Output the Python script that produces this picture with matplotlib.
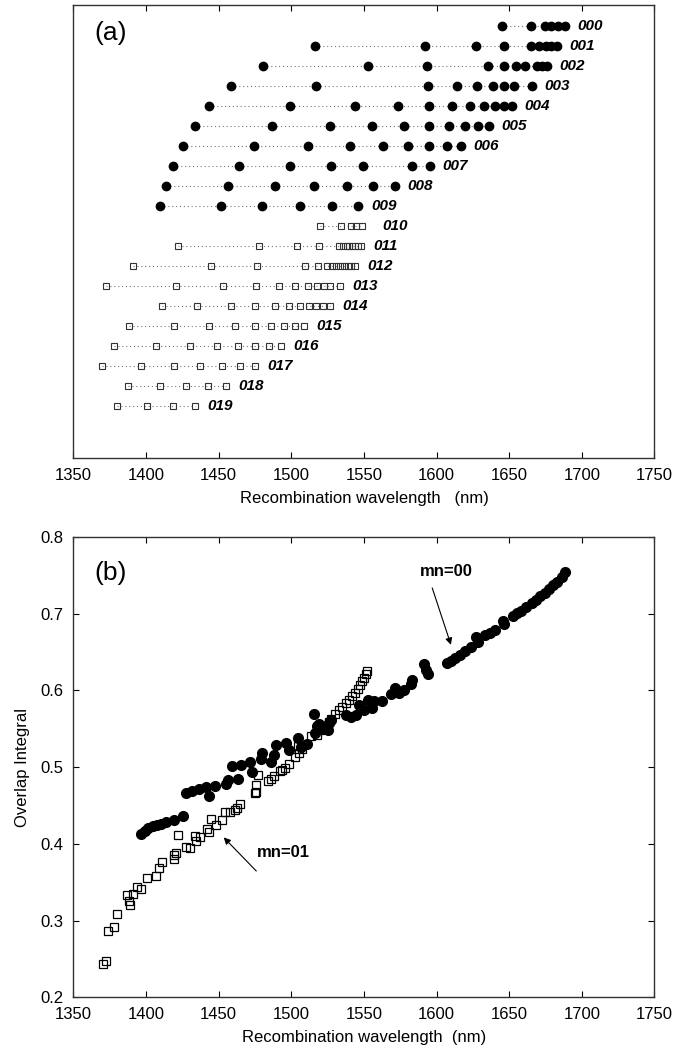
import matplotlib
matplotlib.use("Agg")
import matplotlib.pyplot as plt

plt.rcParams["font.family"] = ["Liberation Sans", "DejaVu Sans"]

# ---- panel (a): recombination wavelengths per mode (nm) ----
circle_labels = ["000", "001", "002", "003", "004", "005", "006", "007", "008", "009"]
circle_rows = [
    [1645.0, 1665.2, 1674.6, 1678.9, 1683.7, 1688.3],
    [1516.4, 1591.9, 1627.0, 1646.1, 1664.9, 1670.3, 1675.0, 1679.0, 1683.0],
    [1480.2, 1552.7, 1593.5, 1635.4, 1646.6, 1654.7, 1660.9, 1668.9, 1672.4, 1676.2],
    [1458.2, 1517.2, 1594.3, 1613.9, 1627.9, 1638.6, 1646.6, 1653.1, 1665.7],
    [1443.4, 1499.3, 1544.1, 1573.4, 1594.6, 1610.7, 1623.0, 1632.7, 1640.2, 1646.6, 1652.0],
    [1433.8, 1486.9, 1526.4, 1555.4, 1577.7, 1595.1, 1608.5, 1619.3, 1628.4, 1635.9],
    [1425.2, 1474.0, 1511.3, 1540.1, 1562.9, 1580.6, 1595.1, 1606.9, 1616.6],
    [1418.5, 1463.8, 1499.3, 1527.2, 1549.5, 1583.0, 1595.4],
    [1413.6, 1456.6, 1488.8, 1515.9, 1538.2, 1556.4, 1571.5],
    [1409.6, 1451.7, 1479.9, 1506.0, 1527.7, 1546.2],
]
square_labels = ["010", "011", "012", "013", "014", "015", "016", "017", "018", "019"]
square_rows = [
    [1519.7, 1534.4, 1541.1, 1544.6, 1548.4],
    [1421.7, 1477.5, 1503.8, 1519.1, 1533.0, 1535.5, 1538.0, 1540.0, 1542.0, 1544.0, 1546.0, 1548.0],
    [1390.8, 1444.5, 1476.2, 1509.5, 1518.3, 1524.5, 1528.0, 1530.7, 1533.4, 1536.0, 1538.7, 1541.4, 1543.6],
    [1372.6, 1420.6, 1453.1, 1475.6, 1491.7, 1502.8, 1511.3, 1517.8, 1522.3, 1526.9, 1533.4],
    [1410.7, 1434.8, 1458.5, 1475.1, 1488.5, 1498.5, 1506.0, 1512.4, 1516.7, 1521.8, 1526.6],
    [1388.4, 1419.5, 1443.2, 1461.1, 1475.1, 1486.1, 1495.2, 1502.8, 1508.4],
    [1377.7, 1406.6, 1430.3, 1448.5, 1463.0, 1475.1, 1484.8, 1492.8],
    [1369.9, 1396.2, 1419.0, 1437.2, 1452.3, 1464.6, 1474.8],
    [1387.3, 1409.3, 1427.3, 1442.3, 1455.2],
    [1380.1, 1400.5, 1418.2, 1433.5],
]

# ---- panel (b): overlap integral vs wavelength ----
wl_00 = [1396.8, 1399.2, 1401.5, 1404.5, 1407.4, 1410.3, 1413.9, 1419.2, 1425.1,
         1427.7, 1431.8, 1436.3, 1441.5, 1443.1, 1447.7, 1455.0, 1456.7, 1459.0, 1463.0,
         1465.2, 1471.5, 1473.1, 1479.0, 1479.5, 1486.3, 1488.1, 1489.2, 1496.5, 1498.3,
         1504.9, 1506.6, 1510.8, 1515.8, 1516.3, 1517.6, 1519.2, 1521.3, 1524.9, 1526.0,
         1527.5, 1537.5, 1541.0, 1544.8, 1546.3, 1550.1, 1552.8, 1555.2, 1556.6, 1562.5,
         1568.4, 1571.3, 1574.3, 1577.8, 1582.2, 1583.1, 1591.4, 1592.8, 1594.3,
         1607.2, 1609.6, 1612.5, 1616.4, 1619.9, 1623.4, 1627.3, 1628.7, 1633.1, 1636.9,
         1640.5, 1645.5, 1646.4, 1652.3, 1655.2, 1658.2, 1661.7, 1665.5, 1668.5, 1671.4,
         1674.4, 1677.3, 1680.2, 1683.2, 1686.1, 1688.2]
ov_00 = [0.413, 0.417, 0.421, 0.423, 0.424, 0.426, 0.428, 0.431, 0.436,
         0.466, 0.469, 0.471, 0.474, 0.462, 0.475, 0.478, 0.483, 0.501, 0.485,
         0.503, 0.507, 0.494, 0.510, 0.519, 0.507, 0.516, 0.529, 0.532, 0.522,
         0.538, 0.526, 0.530, 0.569, 0.544, 0.554, 0.556, 0.550, 0.549, 0.557,
         0.561, 0.568, 0.565, 0.568, 0.581, 0.575, 0.587, 0.577, 0.586, 0.586,
         0.595, 0.603, 0.596, 0.601, 0.609, 0.613, 0.635, 0.626, 0.622,
         0.636, 0.638, 0.642, 0.646, 0.651, 0.656, 0.670, 0.663, 0.672, 0.675,
         0.679, 0.690, 0.687, 0.697, 0.701, 0.704, 0.709, 0.714, 0.718, 0.723,
         0.727, 0.732, 0.737, 0.741, 0.748, 0.754]

wl_01 = [1370.4, 1372.7, 1373.9, 1378.2, 1380.2, 1387.0, 1388.0, 1388.8, 1390.9, 1393.6,
         1396.6, 1400.9, 1407.0, 1409.0, 1410.9, 1419.0, 1419.3, 1420.6, 1421.8, 1427.3,
         1430.0, 1433.6, 1434.5, 1437.2, 1442.2, 1443.1, 1444.8, 1448.1, 1452.1, 1454.5,
         1458.0, 1461.0, 1462.7, 1464.5, 1475.0, 1475.4, 1476.0, 1477.2, 1484.0, 1486.0,
         1488.3, 1491.9, 1493.3, 1495.7, 1498.6, 1502.8, 1504.5, 1505.1, 1507.5, 1513.4,
         1517.8, 1519.8, 1522.8, 1525.7, 1527.2, 1530.1, 1533.1, 1535.1, 1537.5, 1539.8,
         1541.9, 1544.0, 1545.7, 1547.5, 1548.7, 1550.1, 1551.6, 1552.2]
ov_01 = [0.243, 0.247, 0.287, 0.291, 0.309, 0.333, 0.325, 0.320, 0.334, 0.344,
         0.341, 0.356, 0.358, 0.368, 0.377, 0.386, 0.380, 0.388, 0.412, 0.396,
         0.395, 0.410, 0.404, 0.409, 0.420, 0.415, 0.433, 0.425, 0.431, 0.441,
         0.441, 0.444, 0.447, 0.452, 0.466, 0.468, 0.477, 0.490, 0.482, 0.484,
         0.488, 0.495, 0.496, 0.499, 0.504, 0.513, 0.527, 0.518, 0.524, 0.541,
         0.542, 0.549, 0.554, 0.559, 0.563, 0.569, 0.575, 0.579, 0.583, 0.588,
         0.593, 0.597, 0.602, 0.607, 0.612, 0.616, 0.621, 0.625]

x_ticks = [1350, 1400, 1450, 1500, 1550, 1600, 1650, 1700, 1750]
y_ticks_b = [0.2, 0.3, 0.4, 0.5, 0.6, 0.7, 0.8]

TICK_FS = 12
DOT_LINE = dict(color="#777777", linestyle=(0, (1, 2.5)), linewidth=0.8)


def style_axes(ax):
    for sp in ax.spines.values():
        sp.set_linewidth(1.0)
        sp.set_color("#333333")
    ax.set_xlim(1350, 1750)
    ax.set_xticks(x_ticks)
    ax.tick_params(direction="in", length=4.3, width=0.8, labelsize=TICK_FS,
                   top=True, right=True, pad=7)


def plot_panel_a(ax):
    for k, row in enumerate(circle_rows):
        y = [-k] * len(row)
        ax.plot(row, y, **DOT_LINE, zorder=1)
        ax.plot(row, y, "o", color="black", markersize=6, zorder=2)
        ax.annotate(circle_labels[k], (row[-1], -k), xytext=(9, 0), textcoords="offset points",
                    ha="left", va="center", fontsize=11, fontweight="bold", style="italic")
    n0 = len(circle_rows)
    for j, row in enumerate(square_rows):
        k = n0 + j
        y = [-k] * len(row)
        ax.plot(row, y, **DOT_LINE, zorder=1)
        ax.plot(row, y, "s", markerfacecolor="none", markeredgecolor="#333333",
                markeredgewidth=0.8, markersize=4, zorder=2)
        off = 15 if square_labels[j] == "010" else 9
        ax.annotate(square_labels[j], (row[-1], -k), xytext=(off, 0), textcoords="offset points",
                    ha="left", va="center", fontsize=11, fontweight="bold", style="italic")
    style_axes(ax)
    ax.set_ylim(-21.6, 1.03)
    ax.set_yticks([])
    ax.tick_params(left=False, right=False)
    ax.set_xlabel("Recombination wavelength   (nm)", fontsize=12, labelpad=6)
    ax.text(0.036, 0.938, "(a)", transform=ax.transAxes, fontsize=19, va="center", ha="left")


def plot_panel_b(ax):
    ax.plot(wl_01, ov_01, "s", markerfacecolor="none", markeredgecolor="black",
            markeredgewidth=0.9, markersize=5.5, zorder=2)
    ax.plot(wl_00, ov_00, "o", color="black", markersize=7, zorder=3)
    style_axes(ax)
    ax.set_ylim(0.2, 0.8)
    ax.set_yticks(y_ticks_b)
    ax.set_yticklabels([f"{v:.1f}" for v in y_ticks_b])
    ax.set_xlabel("Recombination wavelength  (nm)", fontsize=12, labelpad=6)
    ax.set_ylabel("Overlap Integral", fontsize=12, labelpad=8)
    ax.text(0.036, 0.921, "(b)", transform=ax.transAxes, fontsize=19, va="center", ha="left")

    arrow = dict(arrowstyle="-|>", color="black", lw=0.8, mutation_scale=10)
    ax.annotate("", xy=(1610.5, 0.656), xytext=(1596.4, 0.737), arrowprops=arrow)
    ax.text(1606.7, 0.755, "mn=00", ha="center", va="center", fontsize=12, fontweight="bold")
    ax.annotate("", xy=(1452.1, 0.411), xytext=(1477.2, 0.362), arrowprops=arrow)
    ax.text(1494.8, 0.389, "mn=01", ha="center", va="center", fontsize=12, fontweight="bold")


def main():
    fig = plt.figure(figsize=(6.74, 10.55), dpi=100)
    ax_a = fig.add_axes([0.109, 0.5659, 0.862, 0.4294])
    ax_b = fig.add_axes([0.109, 0.0547, 0.862, 0.4363])
    plot_panel_a(ax_a)
    plot_panel_b(ax_b)
    fig.savefig("out.png", dpi=100)
    plt.close(fig)


if __name__ == "__main__":
    main()
